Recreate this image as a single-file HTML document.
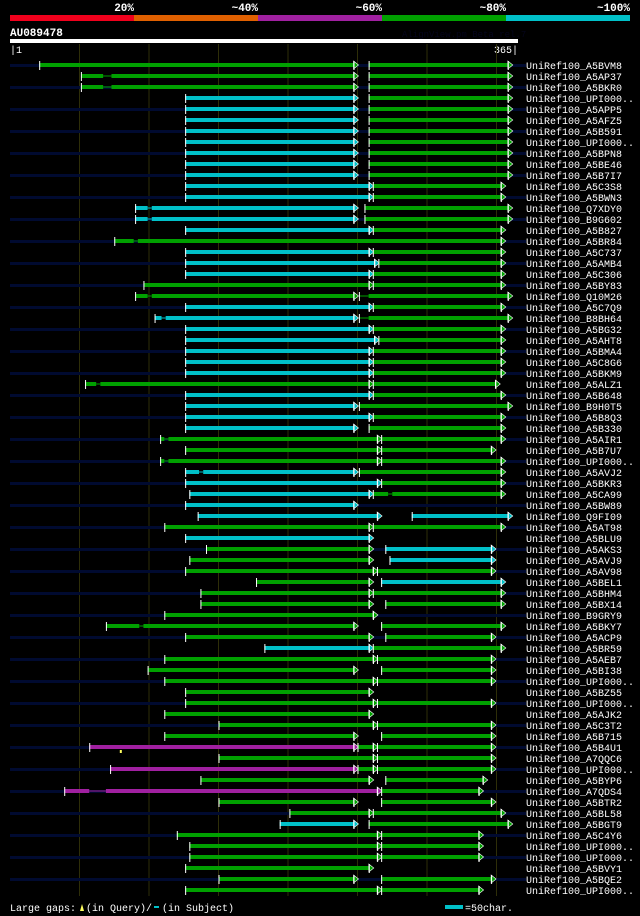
<!DOCTYPE html>
<html><head><meta charset="utf-8">
<style>
html,body{margin:0;padding:0;background:#000;}
svg{display:block;}
text{font-family:"Liberation Mono","DejaVu Sans Mono",monospace;}
</style></head>
<body>
<svg id="chart" width="640" height="916" viewBox="0 0 640 916" xmlns="http://www.w3.org/2000/svg">
  <rect x="0" y="0" width="640" height="916" fill="#000"/>
  <g>
    <rect x="10" y="15" width="124" height="6" fill="#f0001c"/>
    <rect x="134" y="15" width="124" height="6" fill="#e06000"/>
    <rect x="258" y="15" width="124" height="6" fill="#a020a0"/>
    <rect x="382" y="15" width="124" height="6" fill="#00a000"/>
    <rect x="506" y="15" width="124" height="6" fill="#00c0c8"/>
    <g font-size="11" font-weight="bold" fill="#fff" text-anchor="end">
      <text x="134" y="11">20%</text>
      <text x="258" y="11">~40%</text>
      <text x="382" y="11">~60%</text>
      <text x="506" y="11">~80%</text>
      <text x="630" y="11">~100%</text>
    </g>
  </g>
  <text x="10" y="36" font-size="11" font-weight="bold" fill="#fff">AU089478</text>
  <text x="402" y="37" font-size="9" fill="#05051c">AlignView.pm Beta rel.7</text>
  <rect x="10" y="39" width="508" height="4" fill="#fff"/>
  <text x="10" y="53" font-size="10" fill="#fff">|1</text>
  <text x="518" y="53" font-size="10" fill="#fff" text-anchor="end">365|</text>
  <g id="grid"></g>
  <g id="rows"></g>
  <g>
    <text x="10" y="911" font-size="10" fill="#fff">Large gaps:</text>
    <polygon points="80,911 82,904 84,911" fill="#ffff60"/>
    <text x="86" y="911" font-size="10" fill="#fff">(in Query)/</text>
    <rect x="154" y="906" width="5" height="2" fill="#00c0c8"/>
    <text x="162" y="911" font-size="10" fill="#fff">(in Subject)</text>
    <rect x="445" y="905" width="18" height="4" fill="#00c0c8"/>
    <text x="465" y="911" font-size="10" fill="#fff">=50char.</text>
  </g>
</svg>
<script>
// query length and grid ticks (residues)
const queryLength = 365;
const gridTicks = [51, 101, 151, 201, 251, 301, 351];
// hit names
const names = ["A5BVM8","A5AP37","A5BKR0","UPI000..","A5APP5","A5AFZ5","A5B591","UPI000..","A5BPN8","A5BE46",
"A5B7I7","A5C3S8","A5BWN3","Q7XDY0","B9G602","A5B827","A5BR84","A5C737","A5AMB4","A5C306",
"A5BY83","Q10M26","A5C7Q9","B8BH64","A5BG32","A5AHT8","A5BMA4","A5C8G6","A5BKM9","A5ALZ1",
"A5B648","B9H0T5","A5B8Q3","A5B330","A5AIR1","A5B7U7","UPI000..","A5AVJ2","A5BKR3","A5CA99",
"A5BW89","Q9FI09","A5AT98","A5BLU9","A5AKS3","A5AVJ9","A5AV98","A5BEL1","A5BHM4","A5BX14",
"B9GRY9","A5BKY7","A5ACP9","A5BR59","A5AEB7","A5BI38","UPI000..","A5BZ55","UPI000..","A5AJK2",
"A5C3T2","A5B715","A5B4U1","A7QQC6","UPI000..","A5BYP6","A7QDS4","A5BTR2","A5BL58","A5BGT9",
"A5C4Y6","UPI000..","UPI000..","A5BVY1","A5BQE2","UPI000.."];
// HSPs per hit: [start, end, colour code, gapStart, gapEnd] in query residues
const hsps = [
[[22,251,"g"],[259,362,"g"]],
[[52,251,"g",68,74],[259,362,"g"]],
[[52,251,"g",68,74],[259,362,"g"]],
[[127,251,"c"],[259,362,"g"]],
[[127,251,"c"],[259,362,"g"]],
[[127,251,"c"],[259,362,"g"]],
[[127,251,"c"],[259,362,"g"]],
[[127,251,"c"],[259,362,"g"]],
[[127,251,"c"],[259,362,"g"]],
[[127,251,"c"],[259,362,"g"]],
[[127,251,"c"],[259,362,"g"]],
[[127,262,"c"],[262,357,"g"]],
[[127,262,"c"],[262,357,"g"]],
[[91,251,"c",100,103],[256,362,"g"]],
[[91,251,"c",100,103],[256,362,"g"]],
[[127,262,"c"],[262,357,"g"]],
[[76,357,"g",90,93]],
[[127,262,"c"],[262,357,"g"]],
[[127,266,"c"],[266,357,"g"]],
[[127,262,"c"],[262,357,"g"]],
[[97,262,"g"],[262,357,"g"]],
[[91,251,"g",100,103],[252,362,"g",252,259]],
[[127,262,"c"],[262,357,"g"]],
[[105,251,"c",110,113],[252,362,"g",252,259]],
[[127,262,"c"],[262,357,"g"]],
[[127,266,"c"],[266,357,"g"]],
[[127,262,"c"],[262,357,"g"]],
[[127,262,"c"],[262,357,"g"]],
[[127,262,"c"],[262,357,"g"]],
[[55,262,"g",63,66],[262,353,"g"]],
[[127,262,"c"],[262,357,"g"]],
[[127,251,"c"],[252,362,"g"]],
[[127,262,"c"],[262,357,"g"]],
[[127,251,"c"],[259,357,"g"]],
[[109,268,"g",112,115],[268,357,"g"]],
[[127,268,"g"],[268,350,"g"]],
[[109,268,"g",112,115],[268,357,"g"]],
[[127,251,"c",137,140],[252,357,"g"]],
[[127,268,"c"],[268,357,"g"]],
[[130,262,"c"],[262,357,"g",273,276]],
[[127,251,"c"]],
[[136,268,"c"],[290,362,"c"]],
[[112,262,"g"],[262,357,"g"]],
[[127,262,"c"]],
[[142,262,"g"],[271,350,"c"]],
[[130,262,"g"],[274,350,"c"]],
[[127,265,"g"],[265,350,"g"]],
[[178,262,"g"],[268,357,"c"]],
[[138,262,"g"],[262,357,"g"]],
[[138,262,"g"],[271,357,"g"]],
[[112,265,"g"]],
[[70,251,"g",94,97],[268,357,"g"]],
[[127,262,"g"],[271,350,"g"]],
[[184,262,"c"],[262,357,"g"]],
[[112,265,"g"],[265,350,"g"]],
[[100,251,"g"],[268,350,"g"]],
[[112,265,"g"],[265,350,"g"]],
[[127,262,"g"]],
[[127,265,"g"],[265,350,"g"]],
[[112,262,"g"]],
[[151,265,"g"],[265,350,"g"]],
[[112,251,"g"],[268,350,"g"]],
[[58,251,"m"],[251,265,"g"],[265,350,"g"]],
[[151,265,"g"],[265,350,"g"]],
[[73,251,"m"],[251,265,"g"],[265,350,"g"]],
[[138,262,"g"],[271,344,"g"]],
[[40,268,"m",58,70],[268,341,"g"]],
[[151,251,"g"],[268,350,"g"]],
[[202,262,"g"],[262,357,"g"]],
[[195,251,"c"],[259,362,"g"]],
[[121,268,"g"],[268,341,"g"]],
[[130,268,"g"],[268,341,"g"]],
[[130,268,"g"],[268,341,"g"]],
[[127,262,"g"]],
[[151,251,"g"],[268,350,"g"]],
[[127,268,"g"],[268,341,"g"]]
];
// large gaps in query: [rowIndex, residue]
const queryGaps = [[62, 80]];

const NS = "http://www.w3.org/2000/svg";
const X0 = 10, PPR = 1.39, ROW0 = 65, PITCH = 11;
const colors = {g:"#00a000", c:"#00c0c8", m:"#a020a0"};
function X(r){ return X0 + (r - 1) * PPR; }
function Y(i){ return ROW0 + i * PITCH; }
function mk(tag, attrs, parent){
  const el = document.createElementNS(NS, tag);
  for (const k in attrs) el.setAttribute(k, attrs[k]);
  parent.appendChild(el);
  return el;
}
const grid = document.getElementById("grid");
gridTicks.forEach(function(t){
  const l = mk("line", {x1:X(t), x2:X(t), y1:44, y2:896, stroke:"#2e2e08", "stroke-width":1}, grid);
  
  
});
const rows = document.getElementById("rows");
names.forEach(function(n, i){
  const y = Y(i);
  const g = mk("g", {}, rows);
  
  
  if (i % 2 === 0) {
    const bg = mk("rect", {x:10, y:y-1, width:516, height:3, fill:"#000a30"}, g);
    
    
  }
  hsps[i].forEach(function(h){
    const s = h[0], e = h[1], col = colors[h[2]];
    const xs = X(s), xe = X(e) - 4;
    const seg = mk("g", {}, g);
    
    
    if (h.length > 3) {
      const gs = X(h[3]), ge = X(h[4]);
      mk("rect", {x:xs, y:y-2, width:Math.max(0, gs-xs), height:4, fill:col}, seg);
      mk("rect", {x:gs, y:y-0.5, width:ge-gs, height:1, fill:col}, seg);
      mk("rect", {x:ge, y:y-2, width:Math.max(0, xe-ge), height:4, fill:col}, seg);
    } else {
      mk("rect", {x:xs, y:y-2, width:Math.max(0, xe-xs), height:4, fill:col}, seg);
    }
    mk("rect", {x:xs, y:y-4, width:1, height:9, fill:"#fff"}, seg);
    mk("polygon", {points:(xe)+","+(y-4)+" "+(xe+5)+","+y+" "+(xe)+","+(y+4), fill:col, stroke:"#fff", "stroke-width":0.6}, seg);
    mk("rect", {x:xe, y:y-4, width:1, height:9, fill:"#fff"}, seg);
  });
  const t = mk("text", {x:526, y:y+4, "font-size":10, fill:"#fff"}, g);
  
  
  t.textContent = "UniRef100_" + n;
});
queryGaps.forEach(function(q){
  const m = mk("rect", {x:X(q[1]), y:Y(q[0])+3, width:2, height:3, fill:"#ffff60"}, rows);
  
  
});
</script>
</body></html>
